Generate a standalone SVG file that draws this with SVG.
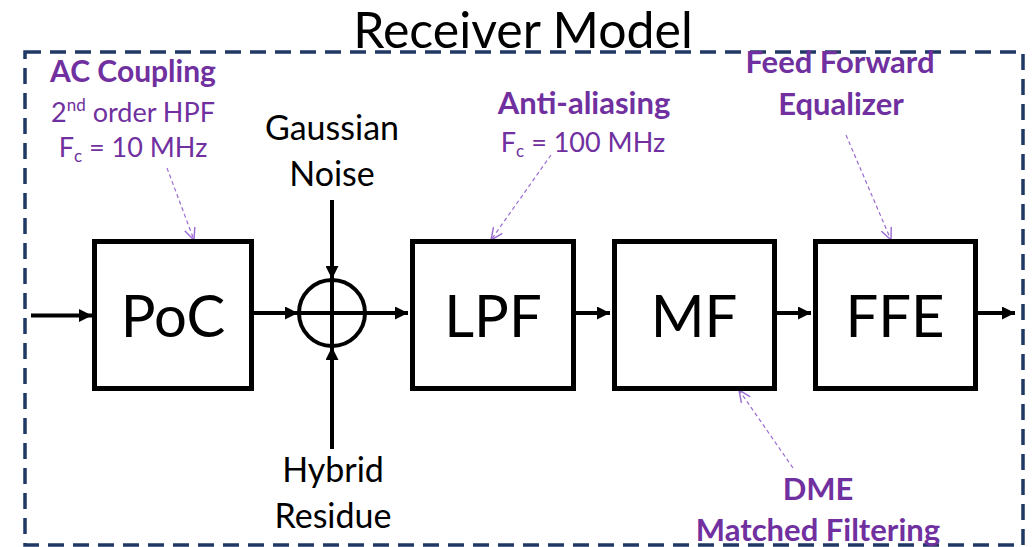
<svg xmlns="http://www.w3.org/2000/svg" width="1035" height="547" viewBox="0 0 1035 547">
<style>
.box{fill:#fff;stroke:#000;stroke-width:5}
.blk{font-family:Lato,"Open Sans",sans-serif;fill:#000;text-anchor:middle}
.pur{font-family:Lato,"Open Sans",sans-serif;fill:#7030A0;text-anchor:middle}
.b{font-weight:bold;font-size:31px}
.wire{stroke:#000;stroke-width:4;fill:none}
.ptr{stroke:#9B6BD3;stroke-width:1.2;stroke-dasharray:4 3;fill:none}
</style>
<defs>
<marker id="ah" viewBox="0 0 10 10" refX="10" refY="5" markerWidth="13" markerHeight="13" markerUnits="userSpaceOnUse" orient="auto">
<path d="M0,0 L10,5 L0,10 z" fill="#000"/>
</marker>
<marker id="open" viewBox="0 0 10 10" refX="10" refY="5" markerWidth="12" markerHeight="12" markerUnits="userSpaceOnUse" orient="auto">
<path d="M0,0.5 L10,5 L0,9.5" fill="none" stroke="#9B6BD3" stroke-width="1.2"/>
</marker>
</defs>
<rect id="frame" x="25" y="52" width="998" height="493" fill="none" stroke="#1F3864" stroke-width="3.5" stroke-dasharray="16 9"/>
<text id="title" x="523" y="48" class="blk" font-size="50">Receiver Model</text>

<g id="connectors">
<path class="wire" d="M31,315.5 L92,315.5" marker-end="url(#ah)"/>
<path class="wire" d="M254,313 L298,313" marker-end="url(#ah)"/>
<path class="wire" d="M298,313 L408,313" marker-end="url(#ah)"/>
<path class="wire" d="M332,200 L332,279" marker-end="url(#ah)"/>
<path class="wire" d="M332,279 L332,347"/>
<path class="wire" d="M332,449 L332,347" marker-end="url(#ah)"/>
<path class="wire" d="M575,313 L610,313" marker-end="url(#ah)"/>
<path class="wire" d="M776,313 L811,313" marker-end="url(#ah)"/>
<path class="wire" d="M977,313 L1015,313" marker-end="url(#ah)"/>
<path class="ptr" d="M167,168 L194,240" marker-end="url(#open)"/>
<path class="ptr" d="M551,155 L491,240" marker-end="url(#open)"/>
<path class="ptr" d="M846,135 L891,240" marker-end="url(#open)"/>
<path class="ptr" d="M793,468 L739,390" marker-end="url(#open)"/>
</g>

<g id="poc">
<rect class="box" x="94.5" y="241.5" width="157" height="147"/>
<text class="blk" x="173" y="337" font-size="58">PoC</text>
</g>
<g id="sum">
<circle cx="332" cy="313" r="33" fill="none" stroke="#000" stroke-width="4"/>
</g>
<g id="lpf">
<rect class="box" x="412.5" y="241.5" width="161" height="147"/>
<text class="blk" x="493" y="337" font-size="58">LPF</text>
</g>
<g id="mf">
<rect class="box" x="614.5" y="241.5" width="160" height="147"/>
<text class="blk" x="694" y="337" font-size="58">MF</text>
</g>
<g id="ffe">
<rect class="box" x="815.5" y="241.5" width="160" height="147"/>
<text class="blk" x="895" y="337" font-size="58">FFE</text>
</g>

<g id="noise">
<text class="blk" x="332" y="140" font-size="34">Gaussian</text>
<text class="blk" x="332" y="186" font-size="34">Noise</text>
</g>
<g id="hybrid">
<text class="blk" x="333" y="482" font-size="34">Hybrid</text>
<text class="blk" x="333" y="528" font-size="34">Residue</text>
</g>

<g id="ac-label">
<text class="pur b" x="133" y="82" style="font-size:30px">AC Coupling</text>
<text class="pur" x="133" y="122" font-size="27">2<tspan font-size="17" dy="-11">nd</tspan><tspan dy="11"> order HPF</tspan></text>
<text class="pur" x="133" y="157" font-size="27">F<tspan font-size="17" dy="5">c</tspan><tspan dy="-5"> = 10 MHz</tspan></text>
</g>
<g id="aa-label">
<text class="pur b" x="584" y="114">Anti-aliasing</text>
<text class="pur" x="583" y="152" font-size="27">F<tspan font-size="17" dy="5">c</tspan><tspan dy="-5"> = 100 MHz</tspan></text>
</g>
<g id="ffe-label">
<text class="pur b" x="840" y="73">Feed Forward</text>
<text class="pur b" x="841" y="115">Equalizer</text>
</g>
<g id="dme-label">
<text class="pur b" x="818" y="500">DME</text>
<text class="pur b" x="818" y="541">Matched Filtering</text>
</g>
</svg>
